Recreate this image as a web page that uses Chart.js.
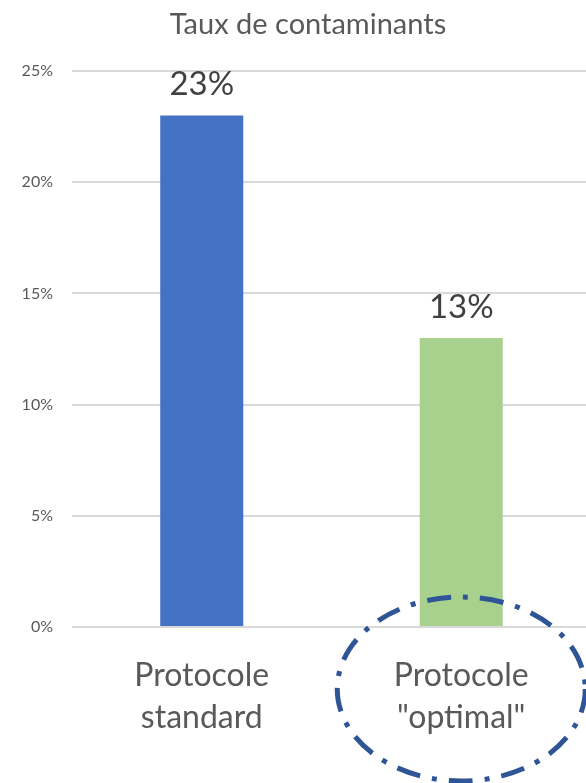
<!DOCTYPE html>
<html>
<head>
<meta charset="utf-8">
<script src="https://cdn.jsdelivr.net/npm/chart.js@4"></script>
<style>
  html, body { margin: 0; padding: 0; background: #fff; }
  #wrap { width: 586px; height: 783px; overflow: hidden; }
</style>
</head>
<body>
<div id="wrap"><canvas id="contaminants" width="591" height="783"></canvas></div>
<script>
const chartTitle = 'Taux de contaminants';
const categories = [['Protocole', 'standard'], ['Protocole', '"optimal"']];
const tauxValues = [23, 13];
const barColors = ['#4472C4', '#A9D18E'];
const yTicks = [0, 5, 10, 15, 20, 25];

const fontFamily = 'Lato, "Open Sans", sans-serif';

// title, drawn by hand so it can sit a bit right of the canvas centre
const titleText = {
    id: 'titleText',
    afterDraw(chart) {
        const ctx = chart.ctx;
        ctx.save();
        ctx.fillStyle = '#595959';
        ctx.font = '29px ' + fontFamily;
        ctx.textAlign = 'center';
        ctx.textBaseline = 'alphabetic';
        ctx.fillText(chartTitle, 308, 34);
        ctx.restore();
    }
};

// value labels above each bar
const valueLabels = {
    id: 'valueLabels',
    afterDatasetsDraw(chart) {
        const ctx = chart.ctx;
        const meta = chart.getDatasetMeta(0);
        ctx.save();
        ctx.fillStyle = '#404040';
        ctx.font = '33px ' + fontFamily;
        ctx.textAlign = 'center';
        ctx.textBaseline = 'alphabetic';
        meta.data.forEach((bar, i) => {
            ctx.fillText(tauxValues[i] + '%', bar.x, bar.y - 20);
        });
        ctx.restore();
    }
};

// dash-dot ellipse around the second category label
const highlightRing = {
    id: 'highlightRing',
    afterDraw(chart) {
        const ctx = chart.ctx;
        const x = chart.scales.x.getPixelForValue(1);
        const y = chart.chartArea.bottom + 62;
        ctx.save();
        ctx.strokeStyle = '#2F5597';
        ctx.lineWidth = 5;
        ctx.setLineDash([24, 12, 5, 12]);
        ctx.beginPath();
        ctx.ellipse(x, y, 124, 92, 0, 0, Math.PI * 2);
        ctx.stroke();
        ctx.restore();
    }
};

const ctx = document.getElementById('contaminants').getContext('2d');
new Chart(ctx, {
    type: 'bar',
    data: {
        labels: categories,
        datasets: [{
            label: chartTitle,
            data: tauxValues,
            backgroundColor: barColors,
            borderWidth: 0,
            barPercentage: 0.64,
            categoryPercentage: 0.5
        }]
    },
    options: {
        responsive: false,
        animation: false,
        layout: { padding: { left: 0, right: 0, top: 71, bottom: 0 } },
        plugins: {
            legend: { display: false },
            tooltip: { enabled: false },
            title: { display: false }
        },
        scales: {
            x: {
                grid: { display: false },
                border: { display: false },
                ticks: {
                    color: '#595959',
                    font: { family: fontFamily, size: 32, lineHeight: 1.3 },
                    padding: 20,
                    maxRotation: 0
                },
                afterFit(scale) { scale.height = 156; }
            },
            y: {
                min: 0,
                max: 25,
                afterBuildTicks(scale) {
                    scale.ticks = yTicks.map(v => ({ value: v }));
                },
                grid: { color: '#d9d9d9', lineWidth: 2, drawTicks: false },
                border: { display: false },
                ticks: {
                    color: '#595959',
                    font: { family: fontFamily, size: 16 },
                    padding: 19,
                    callback: v => v + '%'
                },
                afterFit(scale) { scale.width = 72; }
            }
        }
    },
    plugins: [valueLabels, highlightRing, titleText]
});
</script>
</body>
</html>
